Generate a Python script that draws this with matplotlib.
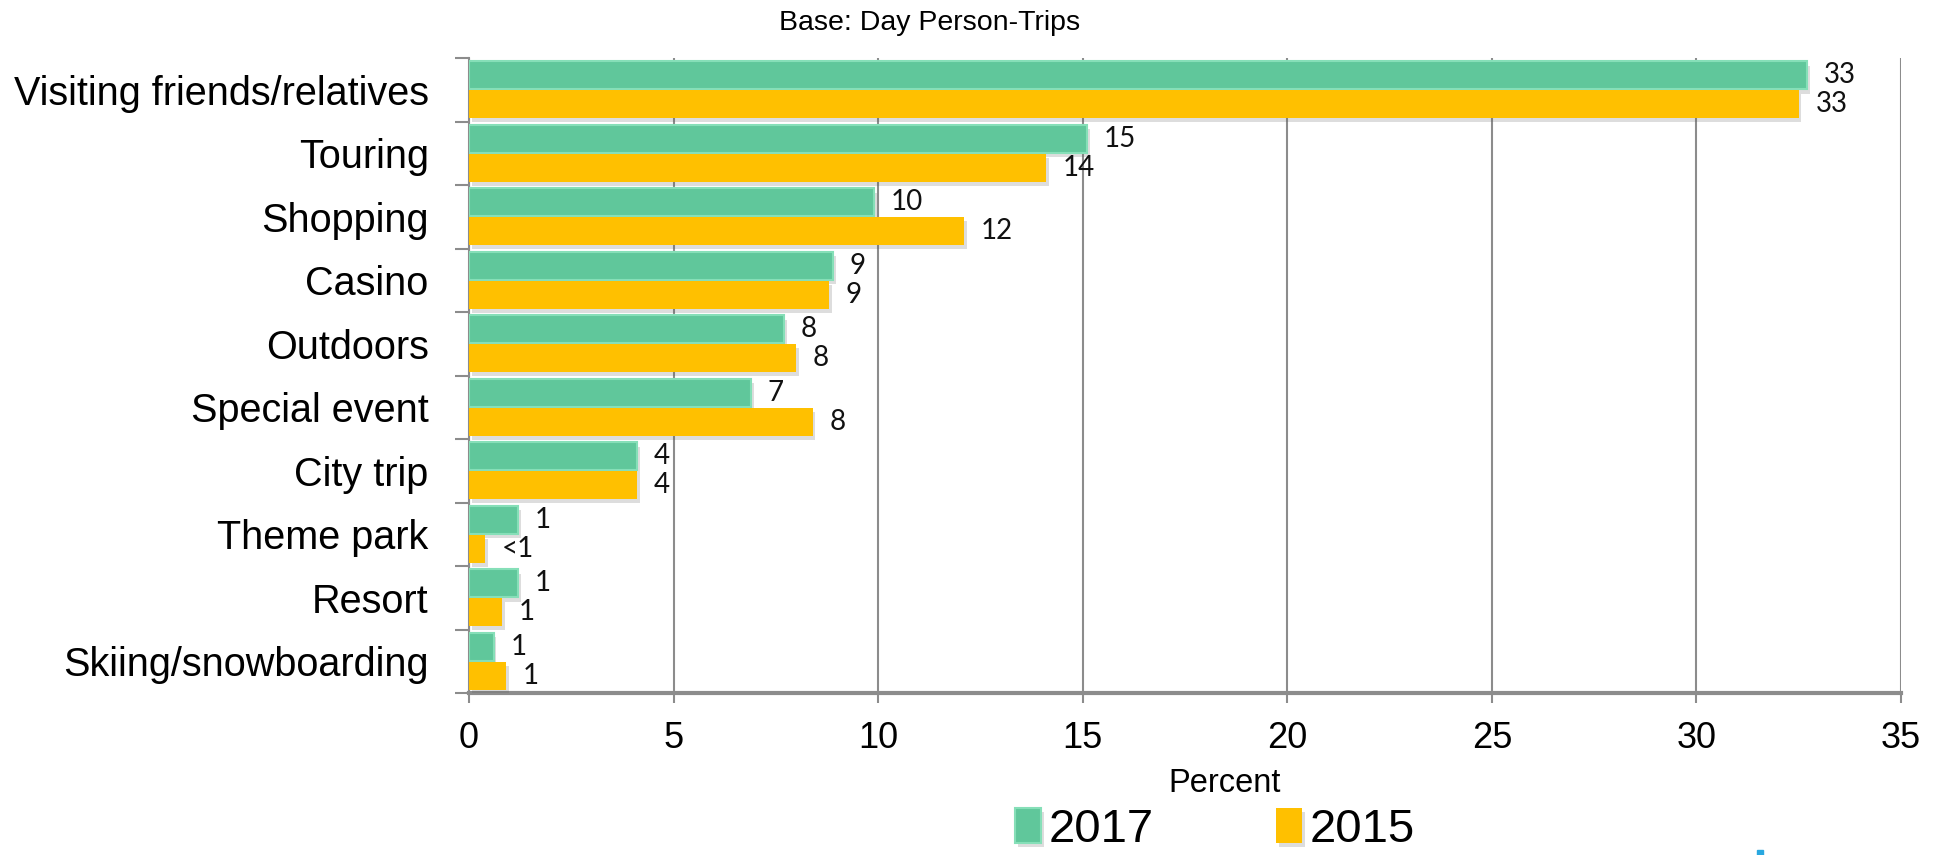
import matplotlib
matplotlib.use("Agg")
import matplotlib.pyplot as plt
import matplotlib.patheffects as pe
from matplotlib.patches import Rectangle
import numpy as np

categories = ["Visiting friends/relatives", "Touring", "Shopping", "Casino", "Outdoors",
              "Special event", "City trip", "Theme park", "Resort", "Skiing/snowboarding"]
vals_2017 = [32.7, 15.1, 9.9, 8.9, 7.7, 6.9, 4.1, 1.2, 1.2, 0.6]
vals_2015 = [32.5, 14.1, 12.1, 8.8, 8.0, 8.4, 4.1, 0.4, 0.8, 0.9]
labels_2017 = ["33", "15", "10", "9", "8", "7", "4", "1", "1", "1"]
labels_2015 = ["33", "14", "12", "9", "8", "8", "4", "<1", "1", "1"]
xticks = [0, 5, 10, 15, 20, 25, 30, 35]

ARIAL = ["Liberation Sans", "DejaVu Sans"]
LABEL = ["Lato", "DejaVu Sans"]

GREEN = "#60C79B"
GREEN_EDGE = "#86DFB8"
YELLOW = "#FFC000"
GRID = "#8C8C8C"

fig = plt.figure(figsize=(19.36, 8.55), dpi=100)
ax = fig.add_axes([469/1936, 1-693/855, (1901-469)/1936, (693-58)/855])

y = np.arange(len(categories))
h = 0.44
shadow = [pe.withSimplePatchShadow(offset=(2, -3), shadow_rgbFace="#555555", alpha=0.2)]
b17 = ax.barh(y - 0.225, vals_2017, height=h, color=GREEN, edgecolor=GREEN_EDGE,
              linewidth=1.5, label="2017", zorder=3)
b15 = ax.barh(y + 0.225, vals_2015, height=h, color=YELLOW, edgecolor="none",
              label="2015", zorder=3)
for b in list(b17) + list(b15):
    b.set_path_effects(shadow)

for yi, v, lab in zip(y, vals_2017, labels_2017):
    ax.annotate(lab, (v, yi - 0.225), xytext=(12, 0), textcoords="offset points",
                va="center", ha="left", fontsize=20, family=LABEL, color="#111111")
for yi, v, lab in zip(y, vals_2015, labels_2015):
    ax.annotate(lab, (v, yi + 0.225), xytext=(12, 0), textcoords="offset points",
                va="center", ha="left", fontsize=20, family=LABEL, color="#111111")

ax.set_xlim(0, 35)
ax.set_ylim(len(categories) - 0.5, -0.5)
ax.set_xticks(xticks)
ax.set_xticklabels([str(t) for t in xticks], family=ARIAL, fontsize=26)
ax.tick_params(axis="x", length=7, width=1.5, color=GRID, pad=13)

ax.set_yticks(np.arange(-0.5, len(categories), 1.0))
ax.set_yticklabels([])
ax.set_yticks(y, minor=True)
ax.set_yticklabels(categories, minor=True, family=ARIAL, fontsize=28.5)
ax.tick_params(axis="y", which="major", length=10, width=1.5, color=GRID)
ax.tick_params(axis="y", which="minor", length=0, pad=29)

ax.grid(axis="x", color=GRID, linewidth=1.5)
ax.set_axisbelow(True)
for s in ["top", "right"]:
    ax.spines[s].set_visible(False)
ax.spines["left"].set_color(GRID)
ax.spines["left"].set_linewidth(1.5)
ax.spines["bottom"].set_color(GRID)
ax.spines["bottom"].set_linewidth(3)

fig.text(930/1936, 1-23/855, "Base: Day Person-Trips", ha="center", va="center",
         fontsize=20.5, family=ARIAL)
fig.text(1225/1936, 1-783/855, "Percent", ha="center", va="center",
         fontsize=23.5, family=ARIAL)

fig.legend(handles=[b17, b15], labels=["2017", "2015"], loc="center",
           bbox_to_anchor=(1215/1936, 1-830/855), ncol=2, frameon=False,
           prop={"family": ARIAL, "size": 34}, handlelength=0.55, handleheight=0.75,
           handletextpad=0.15, columnspacing=2.6, borderpad=0)

fig.patches.append(Rectangle((1757/1936, 0), 6/1936, 5/855, transform=fig.transFigure,
                             color="#29A8E0", figure=fig))

fig.savefig("out.png", dpi=100)
